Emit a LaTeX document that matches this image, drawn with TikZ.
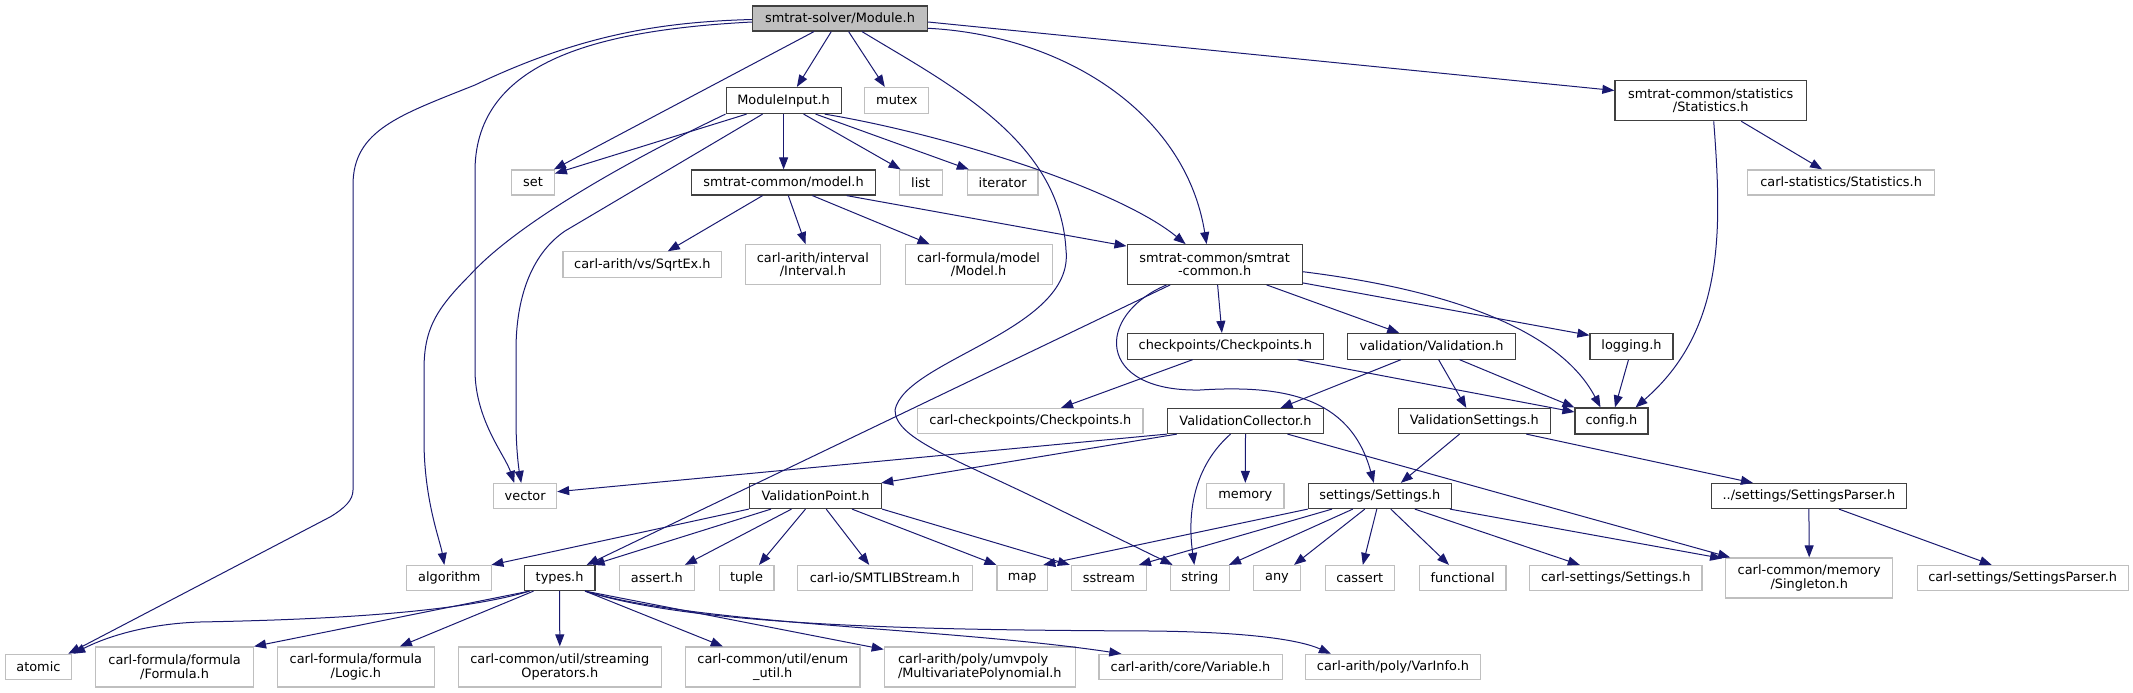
\documentclass[tikz,border=0pt]{standalone}
\usepackage{fontspec}
\newfontfamily\dvs{DejaVu Sans}
\usetikzlibrary{arrows.meta,calc}
\definecolor{edgec}{HTML}{191970}
\definecolor{docc}{HTML}{404040}
\definecolor{undc}{HTML}{BFBFBF}
\definecolor{rootc}{HTML}{BFBFBF}
\tikzset{
  base/.style={rectangle, inner sep=0pt, align=center, text=black, font={\dvs\fontsize{12.9}{13.4}\selectfont}},
  doc/.style={base, draw=docc, line width=1.2pt},
  und/.style={base, draw=undc, line width=1.2pt},
  root/.style={doc, fill=rootc},
  sz/.style 2 args={minimum width=#1, minimum height=#2},
  e/.style={draw=edgec, line width=1pt, -{Triangle[length=12pt,width=9pt]}}
}
\begin{document}
\begin{tikzpicture}[x=1pt,y=-1pt]
\useasboundingbox (0,0) rectangle (2133,693);
% nodes
\node[root, sz={175}{25}] (mod) at (840,18.5) {smtrat-solver/Module.h};
\node[doc, sz={115}{26}] (mi) at (783.6,100.5) {ModuleInput.h};
\node[und, sz={64}{26}] (mutex) at (896.8,100.5) {mutex};
\node[doc, sz={191.5}{40.4}] (stat) at (1710.7,100.5) {smtrat-common/statistics\\/Statistics.h};
\node[und, sz={42.6}{25}] (set) at (533,182.5) {set};
\node[doc, sz={184.3}{25}] (model) at (783.6,182.5) {smtrat-common/model.h};
\node[und, sz={43}{25}] (list) at (920.7,182.5) {list};
\node[und, sz={70.6}{25}] (iter) at (1002.7,182.5) {iterator};
\node[und, sz={187}{25}] (cstat) at (1841.1,182.5) {carl-statistics/Statistics.h};
\node[und, sz={158.8}{25.3}] (sqrt) at (642.4,264.5) {carl-arith/vs/SqrtEx.h};
\node[und, sz={134.7}{39.6}] (interval) at (812.9,264.5) {carl-arith/interval\\/Interval.h};
\node[und, sz={147}{39.6}] (cmodel) at (978.6,264.5) {carl-formula/model\\/Model.h};
\node[doc, sz={175}{39.6}] (common) at (1214.6,264.5) {smtrat-common/smtrat\\-common.h};
\node[doc, sz={196.3}{25.6}] (chk) at (1225.3,346.3) {checkpoints/Checkpoints.h};
\node[doc, sz={168}{25.6}] (val) at (1431.6,346.3) {validation/Validation.h};
\node[doc, sz={83}{25.6}] (log) at (1631.5,346.3) {logging.h};
\node[und, sz={225.2}{25}] (cchk) at (1030.4,421) {carl-checkpoints/Checkpoints.h};
\node[doc, sz={156}{25}] (vcoll) at (1245.5,421) {ValidationCollector.h};
\node[doc, sz={152.2}{25}] (vset) at (1474.3,421) {ValidationSettings.h};
\node[doc, sz={73}{26}] (config) at (1611.5,421) {config.h};
\node[und, sz={62.7}{25}] (vector) at (525.2,496) {vector};
\node[doc, sz={132.2}{25}] (vpoint) at (815.5,496) {ValidationPoint.h};
\node[und, sz={77.2}{25}] (memory) at (1245.3,496) {memory};
\node[doc, sz={142.9}{25}] (settings) at (1379.8,496) {settings/Settings.h};
\node[doc, sz={195.3}{25}] (sparser) at (1808.9,496) {../settings/SettingsParser.h};
\node[und, sz={85}{25}] (algo) at (449.3,578) {algorithm};
\node[doc, sz={70.9}{25}] (types) at (559.6,578) {types.h};
\node[und, sz={74.7}{25}] (assert) at (656.9,578) {assert.h};
\node[und, sz={54.8}{25}] (tuple) at (746.5,578) {tuple};
\node[und, sz={174.6}{25}] (smtlib) at (884.9,578) {carl-io/SMTLIBStream.h};
\node[und, sz={50.6}{25}] (map) at (1022.3,578) {map};
\node[und, sz={75}{25}] (sstream) at (1108.9,578) {sstream};
\node[und, sz={59.2}{25}] (string) at (1199.8,578) {string};
\node[und, sz={46.9}{25}] (any) at (1277,578) {any};
\node[und, sz={69.2}{25}] (cassert) at (1359.8,578) {cassert};
\node[und, sz={86.8}{25}] (functional) at (1462.6,578) {functional};
\node[und, sz={172.2}{25}] (csettings) at (1615.8,578) {carl-settings/Settings.h};
\node[und, sz={167}{40}] (singleton) at (1809.2,578) {carl-common/memory\\/Singleton.h};
\node[und, sz={210.9}{25}] (csparser) at (2022.7,578) {carl-settings/SettingsParser.h};
\node[und, sz={66.5}{25.3}] (atomic) at (38.4,667) {atomic};
\node[und, sz={157.7}{40}] (formula) at (174.6,667) {carl-formula/formula\\/Formula.h};
\node[und, sz={157.4}{40}] (logic) at (355.9,667) {carl-formula/formula\\/Logic.h};
\node[und, sz={202.8}{40}] (streaming) at (559.8,667) {carl-common/util/streaming\\Operators.h};
\node[und, sz={174.2}{40}] (enum) at (772.8,667) {carl-common/util/enum\\\_util.h};
\node[und, sz={191}{40}, align=left] (mvpoly) at (979.8,667) {carl-arith/poly/umvpoly\\/MultivariatePolynomial.h};
\node[und, sz={183.2}{25.3}] (variable) at (1190.5,667) {carl-arith/core/Variable.h};
\node[und, sz={175}{25.3}] (varinfo) at (1393,667) {carl-arith/poly/VarInfo.h};
% Module.h
\draw[e] ($(mod.south)+(-8.7,0)$) -- ($(mi.north)+(13.3,0)$);
\draw[e] ($(mod.south)+(8.6,0)$) -- ($(mutex.north)+(-12,0)$);
\draw[e] ($(mod.south)+(-26,0)$) -- ($(set.north east)+(-1,0)$);
\draw[e] ($(mod.west)+(0,3.5)$) .. controls (600,30) and (476,60) .. (475,170) -- (475,370) .. controls (475,420) and (505,455) .. ($(vector.north)+(-11,0)$);
\draw[e] ($(mod.west)+(0,1)$) .. controls (660,22) and (580,35) .. (475,85) .. controls (400,115) and (353,130) .. (353,185) -- (353,490) .. controls (353,500) and (345,508) .. (330,517) -- ($(atomic.north east)+(-4,0)$);
\draw[e] ($(mod.south)+(22,0)$) .. controls (950,85) and (1060,140) .. (1066,250) .. controls (1075,330) and (905,360) .. (895,410) .. controls (895,440) and (960,460) .. (1060,510) -- ($(string.north west)+(3,0)$);
\draw[e] ($(mod.east)+(0,9.8)$) .. controls (1060,35) and (1185,110) .. ($(common.north)+(-8,0)$);
\draw[e] ($(mod.east)+(0,3.5)$) -- ($(stat.west)+(0,-10)$);
% ModuleInput.h
\draw[e] ($(mi.south)+(-37,0)$) -- ($(set.east)+(0,-9)$);
\draw[e] (mi.south west) .. controls (640,155) and (520,220) .. (470,275) .. controls (435,310) and (424,330) .. (424,370) -- (424,440) .. controls (424,500) and (440,540) .. ($(algo.north)+(-5,0)$);
\draw[e] ($(mi.south)+(-21,0)$) -- (565,231) .. controls (530,255) and (516,300) .. (516,350) -- (516,420) .. controls (516,450) and (519,470) .. ($(vector.north)+(-4,0)$);
\draw[e] (mi.south) -- (model.north);
\draw[e] ($(mi.south)+(20,0)$) -- ($(list.north west)+(2,0)$);
\draw[e] ($(mi.south)+(32,0)$) -- ($(iter.north west)+(2,0)$);
\draw[e] ($(mi.south)+(41,0)$) .. controls (950,135) and (1120,190) .. ($(common.north)+(-29,0)$);
% model.h
\draw[e] ($(model.south)+(-21,0)$) -- ($(sqrt.north)+(25.4,0)$);
\draw[e] ($(model.south)+(4.7,0)$) -- ($(interval.north)+(-7.4,0)$);
\draw[e] ($(model.south)+(28.8,0)$) -- ($(cmodel.north)+(-49,0)$);
\draw[e] ($(model.south)+(63,0)$) -- ($(common.north west)+(0,2)$);
% Statistics.h
\draw[e] ($(stat.south)+(30.6,0)$) -- ($(cstat.north)+(-19,0)$);
\draw[e] ($(stat.south)+(3,0)$) .. controls (1722,230) and (1725,330) .. ($(config.north)+(24,0)$);
% smtrat-common.h
\draw[e] ($(common.south)+(-44.4,0)$) -- ($(types.north east)+(-9,0)$);
\draw[e] ($(common.south)+(-48,0)$) .. controls (1095,315) and (1095,392) .. (1200,390) .. controls (1280,385) and (1350,395) .. ($(settings.north)+(-6,0)$);
\draw[e] ($(common.south)+(3,0)$) -- ($(chk.north)+(-3.4,0)$);
\draw[e] ($(common.south)+(52,0)$) -- ($(val.north)+(-32.4,0)$);
\draw[e] ($(common.south east)+(0,-2)$) -- ($(log.west)+(0,-11)$);
\draw[e] ($(common.east)+(0,7.2)$) .. controls (1450,290) and (1560,330) .. ($(config.north)+(-11,0)$);
% checkpoints, validation, logging
\draw[e] ($(chk.south)+(-32.7,0)$) -- ($(cchk.north)+(30.6,0)$);
\draw[e] ($(chk.south)+(72.3,0)$) -- ($(config.west)+(0,-9)$);
\draw[e] ($(val.south)+(-30.7,0)$) -- ($(vcoll.north)+(35,0)$);
\draw[e] ($(val.south)+(7,0)$) -- ($(vset.north)+(-8,0)$);
\draw[e] ($(val.south)+(28,0)$) -- (config.north west);
\draw[e] ($(log.south)+(-3,0)$) -- ($(config.north)+(3.5,0)$);
% ValidationCollector.h
\draw[e] (vcoll.south west) -- ($(vector.east)+(0,-4.3)$);
\draw[e] ($(vcoll.south west)+(10,0)$) -- ($(vpoint.north east)+(-1,0)$);
\draw[e] (vcoll.south) -- (memory.north);
\draw[e] ($(vcoll.south)+(-15,0)$) .. controls (1190,470) and (1188,520) .. ($(string.north)+(-5.5,0)$);
\draw[e] ($(vcoll.south)+(42,0)$) -- ($(singleton.north west)+(5,0)$);
% ValidationSettings.h
\draw[e] ($(vset.south)+(-14.8,0)$) -- ($(settings.north)+(21,0)$);
\draw[e] ($(vset.south)+(52,0)$) -- ($(sparser.north)+(-56,0)$);
% settings/Settings.h
\draw[e] (settings.south west) -- ($(map.north)+(21,0)$);
\draw[e] ($(settings.south)+(-47.8,0)$) -- ($(sstream.north)+(30,0)$);
\draw[e] ($(settings.south)+(-27,0)$) -- ($(string.north east)+(-1,0)$);
\draw[e] ($(settings.south)+(-15,0)$) -- ($(any.north)+(17,0)$);
\draw[e] ($(settings.south)+(-3,0)$) -- ($(cassert.north)+(3,0)$);
\draw[e] ($(settings.south)+(11,0)$) -- ($(functional.north)+(-13.6,0)$);
\draw[e] ($(settings.south)+(35,0)$) -- ($(csettings.north)+(-36,0)$);
\draw[e] ($(settings.south east)+(-2,0)$) -- ($(singleton.north west)+(-3,1)$);
% SettingsParser.h
\draw[e] (sparser.south) -- (singleton.north);
\draw[e] ($(sparser.south)+(30,0)$) -- ($(csparser.north)+(-31,0)$);
% ValidationPoint.h
\draw[e] (vpoint.south west) -- ($(algo.north east)+(-1,0)$);
\draw[e] ($(vpoint.south)+(-44.5,0)$) -- ($(types.north east)+(-3,0)$);
\draw[e] ($(vpoint.south)+(-24,0)$) -- ($(assert.north)+(28,0)$);
\draw[e] ($(vpoint.south)+(-10,0)$) -- ($(tuple.north)+(12.5,0)$);
\draw[e] ($(vpoint.south)+(10.7,0)$) -- ($(smtlib.north)+(-15.7,0)$);
\draw[e] ($(vpoint.south)+(36.5,0)$) -- (map.north west);
\draw[e] (vpoint.south east) -- ($(sstream.north west)+(-1,0)$);
% types.h
\draw[e] ($(types.south west)+(6,0)$) .. controls (450,615) and (300,620) .. (200,622) .. controls (140,624) and (100,640) .. ($(atomic.north east)+(1,0)$);
\draw[e] ($(types.south west)+(6,0)$) -- (formula.north east);
\draw[e] ($(types.south west)+(10,0)$) -- ($(logic.north)+(44,0)$);
\draw[e] (types.south) -- (streaming.north);
\draw[e] ($(types.south)+(25.5,0)$) -- ($(enum.north)+(-50,0)$);
\draw[e] ($(types.south)+(25.5,0)$) -- ($(mvpoly.north west)+(0,3)$);
\draw[e] ($(types.south)+(25.5,0)$) .. controls (700,625) and (950,628) .. ($(variable.north west)+(23,0)$);
\draw[e] ($(types.south)+(25.5,0)$) .. controls (700,628) and (950,630) .. (1150,631) .. controls (1250,632) and (1300,640) .. ($(varinfo.north west)+(26,0)$);
\end{tikzpicture}
\end{document}
